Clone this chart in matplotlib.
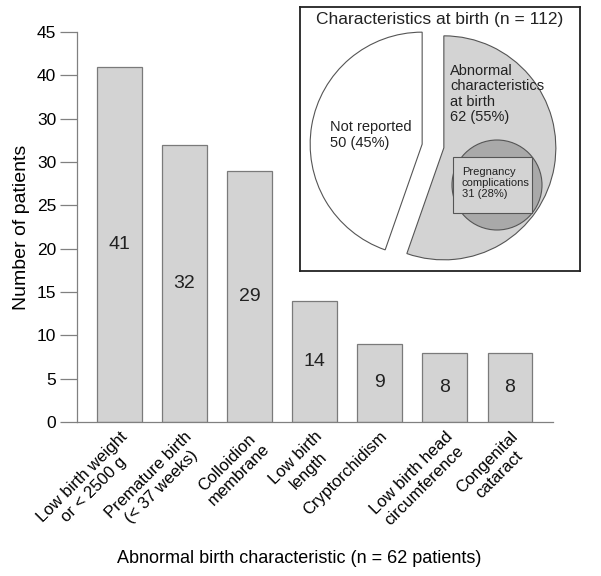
import matplotlib
matplotlib.use("Agg")
import matplotlib.pyplot as plt
from matplotlib.patches import Circle, Rectangle

plt.rcParams['font.family'] = ['Liberation Sans', 'DejaVu Sans']
plt.rcParams['text.color'] = '#222222'

# bar chart data
categories = ["Low birth weight\nor < 2500 g", "Premature birth\n(< 37 weeks)",
              "Colloidion\nmembrane", "Low birth\nlength", "Cryptorchidism",
              "Low birth head\ncircumference", "Congenital\ncataract"]
patients = [41, 32, 29, 14, 9, 8, 8]
ytick_vals = [0, 5, 10, 15, 20, 25, 30, 35, 40, 45]
ytick_labels = ["0", "5", "10", "15", "20", "25", "30", "30", "40", "45"]  # as printed

# inset pie data
pie_labels = ["Not reported\n50 (45%)", "Abnormal\ncharacteristics\nat birth\n62 (55%)"]
pie_vals = [50, 62]
inner_label = "Pregnancy\ncomplications\n31 (28%)"

fig = plt.figure(figsize=(6.01, 5.76), dpi=100)
ax = fig.add_axes([77/601, 1-422/576, 476/601, 390/576])

x = range(len(categories))
bars = ax.bar(x, patients, width=0.69, color='#d3d3d3', edgecolor='#7a7a7a', linewidth=0.9)
ax.bar_label(bars, label_type='center', fontsize=14, color='#222222')

ax.set_xlim(-0.65, 6.66)
ax.set_ylim(0, 45)
ax.set_yticks(ytick_vals)
ax.set_yticklabels(ytick_labels, fontsize=12.5)
ax.set_xticks(list(x))
ax.set_xticklabels(categories, rotation=45, ha='right', va='top',
                   rotation_mode='anchor', fontsize=12, multialignment='center')
ax.tick_params(axis='y', length=12, width=0.9, color='#808080', pad=3)
ax.tick_params(axis='x', length=0, pad=5)
for s in ['top', 'right']:
    ax.spines[s].set_visible(False)
for s in ['left', 'bottom']:
    ax.spines[s].set_color('#808080')
    ax.spines[s].set_linewidth(0.9)
ax.set_ylabel("Number of patients", fontsize=14, labelpad=5)
ax.set_xlabel("Abnormal birth characteristic (n = 62 patients)", fontsize=13)
ax.xaxis.set_label_coords(0.466, -0.328)

# inset
ins = fig.add_axes([300/601, 1-271/576, 280/601, 264/576])
wedges, _ = ins.pie(pie_vals, colors=['white', '#d3d3d3'], startangle=90,
                    explode=[11, 11], center=(133, 125), radius=112,
                    wedgeprops=dict(edgecolor='#555555', linewidth=0.8))
ins.add_patch(Circle((197, 86), 45, facecolor='#a9a9a9', edgecolor='#555555', linewidth=0.8))
ins.add_patch(Rectangle((153, 58), 79, 56, facecolor='#d3d3d3', edgecolor='#555555', linewidth=0.8))
ins.set_aspect('auto')
ins.set_xlim(0, 280)
ins.set_ylim(0, 264)
ins.set_xticks([])
ins.set_yticks([])
ins.set_frame_on(True)
for s in ins.spines.values():
    s.set_color('#222222')
    s.set_linewidth(1.3)
ins.text(140, 252, "Characteristics at birth (n = 112)", ha='center', va='center', fontsize=12.5)
ins.text(30, 136, pie_labels[0], ha='left', va='center', fontsize=10.5, linespacing=1.1)
ins.text(150, 177, pie_labels[1], ha='left', va='center', fontsize=10.5, linespacing=1.1)
ins.text(162, 88, inner_label, ha='left', va='center', fontsize=8, linespacing=1.15)

fig.savefig("out.png", dpi=100)
